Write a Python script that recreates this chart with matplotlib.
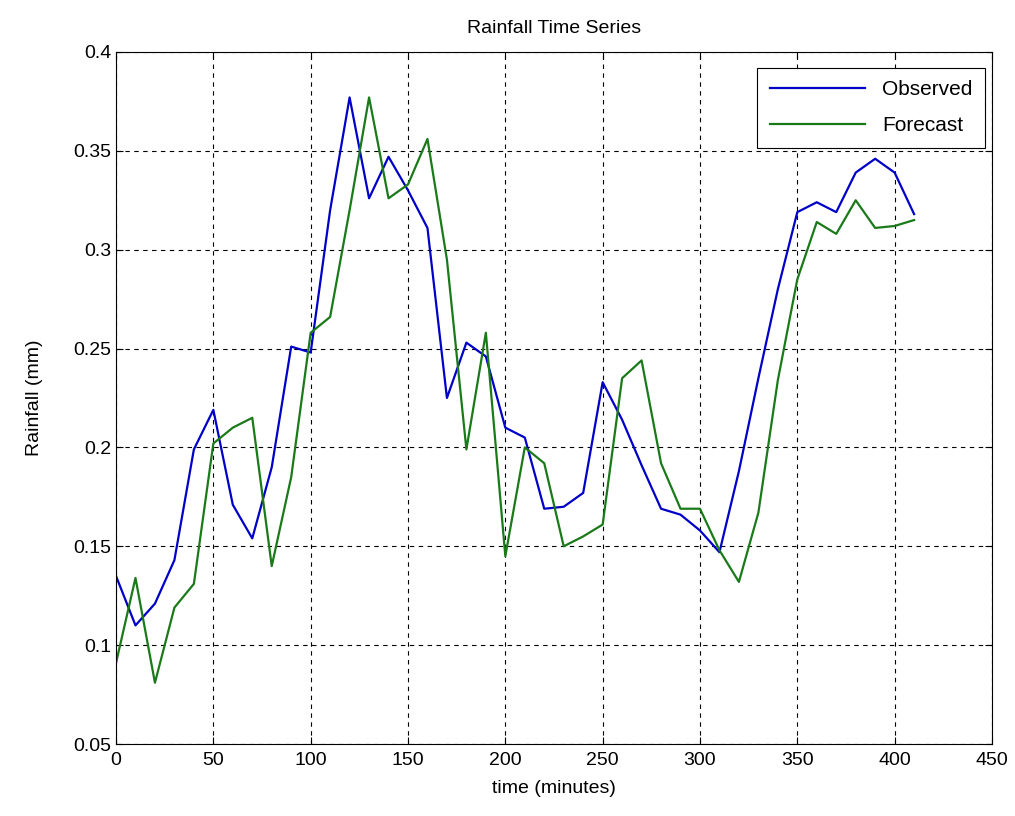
import matplotlib
matplotlib.use("Agg")
import matplotlib.pyplot as plt

# time axis (minutes) and rainfall values
tiempo = [0, 10, 20, 30, 40, 50, 60, 70, 80, 90, 100, 110, 120, 130, 140, 150, 160, 170, 180, 190,
          200, 210, 220, 230, 240, 250, 260, 270, 280, 290, 300, 310, 320, 330, 340, 350, 360, 370,
          380, 390, 400, 410]
observado = [0.135, 0.110, 0.121, 0.143, 0.199, 0.219, 0.171, 0.154, 0.190, 0.251, 0.248, 0.320,
             0.377, 0.326, 0.347, 0.330, 0.311, 0.225, 0.253, 0.246, 0.210, 0.205, 0.169, 0.170,
             0.177, 0.233, 0.214, 0.191, 0.169, 0.166, 0.158, 0.147, 0.188, 0.235, 0.280, 0.319,
             0.324, 0.319, 0.339, 0.346, 0.339, 0.318]
pronostico = [0.091, 0.134, 0.081, 0.119, 0.131, 0.202, 0.210, 0.215, 0.140, 0.185, 0.258, 0.266,
              0.320, 0.377, 0.326, 0.333, 0.356, 0.295, 0.199, 0.258, 0.145, 0.200, 0.192, 0.150,
              0.155, 0.161, 0.235, 0.244, 0.192, 0.169, 0.169, 0.148, 0.132, 0.167, 0.234, 0.285,
              0.314, 0.308, 0.325, 0.311, 0.312, 0.315]

plt.rcParams['font.family'] = ['Liberation Sans', 'DejaVu Sans']

fig = plt.figure(figsize=(10.15, 8.16), dpi=100)
ax = fig.add_axes([0.1143, 0.0882, 0.8630, 0.8481])

ax.plot(tiempo, observado, color='#0000c8', linewidth=1.6, label='Observed')
ax.plot(tiempo, pronostico, color='#1a7a1a', linewidth=1.6, label='Forecast')

ax.set_xlim(0, 450)
ax.set_ylim(0.05, 0.4)
ax.set_xticks(range(0, 451, 50))
ax.set_yticks([0.05, 0.1, 0.15, 0.2, 0.25, 0.3, 0.35, 0.4])
ax.set_yticklabels(['0.05', '0.1', '0.15', '0.2', '0.25', '0.3', '0.35', '0.4'])
ax.tick_params(direction='in', top=True, right=True, labelsize=14, length=5)
ax.tick_params(axis='x', pad=6)
ax.grid(True, linestyle=(0, (4, 4)), color='black', linewidth=0.8)

ax.set_title("Rainfall Time Series", fontsize=14, pad=14)
ax.set_xlabel("time (minutes)", fontsize=14, labelpad=8)
ax.set_ylabel("Rainfall (mm)", fontsize=14, labelpad=22)

leg = ax.legend(loc='upper right', bbox_to_anchor=(0.992, 0.977), fontsize=15,
                fancybox=False, framealpha=1, edgecolor='black', handlelength=4.6,
                labelspacing=0.8, borderpad=0.6, borderaxespad=0)
leg.get_frame().set_linewidth(0.8)

fig.savefig("out.png", dpi=100)
